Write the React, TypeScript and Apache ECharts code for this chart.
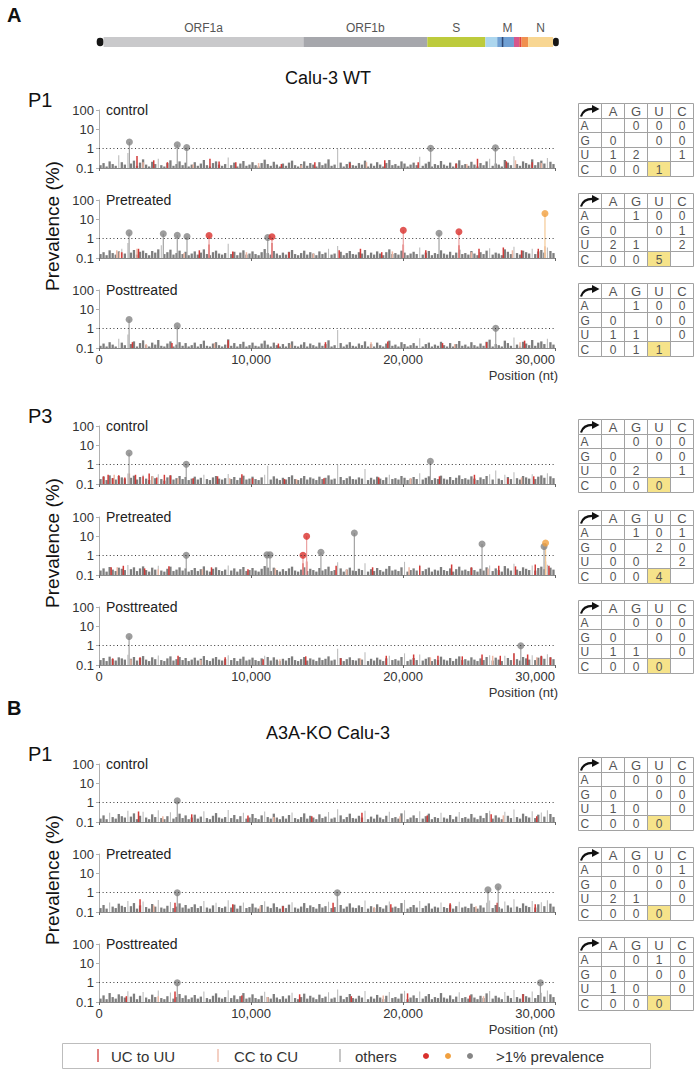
import React, { useEffect, useRef } from 'react';
import * as echarts from 'echarts';

const FONT = '"Liberation Sans", Arial, Helvetica, sans-serif';

// ---------------- genome map ----------------
const geneNames = ['cap5', 'ORF1a', 'ORF1b', 'S', 'ORF3a', 'M', 'E', 'ORF6', 'ORF7', 'ORF8', 'N', 'cap3'];
const geneStarts = [-150, 300, 13450, 21600, 25420, 26200, 26500, 27300, 27650, 27800, 28230, 29870];
const geneEnds = [300, 13450, 21600, 25420, 26200, 27300, 26600, 27650, 27800, 28230, 29870, 30250];
const geneLabels = ['ORF1a', 'ORF1b', 'S', 'M', 'N'];

// ---------------- panel labels ----------------
const panelLabels = ['control', 'Pretreated', 'Posttreated'];
const xTicks = [0, 10000, 20000, 30000];
const baseLetters = ['A', 'G', 'U', 'C'];

// ---------------- background prevalence ("others"), % x 100, 200-nt bins ----------------
const othersWtP1Ctrl = [
  14,18,12,22,16,13,45,20,15,60,17,24,13,19,28,15,12,21,16,30,14,12,18,25,13,16,22,14,19,12,
  15,20,13,17,26,14,12,18,22,15,13,16,35,14,19,12,17,23,13,15,20,14,12,18,27,16,13,21,15,12,
  17,13,19,24,14,12,16,22,13,18,15,12,20,14,17,28,13,15,95,19,12,16,21,14,13,18,15,24,12,17,
  13,20,15,12,18,26,14,16,13,22,17,12,15,19,14,38,13,17,21,12,16,14,23,15,13,19,12,17,25,14,
  16,13,21,15,12,18,14,22,30,13,17,15,12,26,19,14,40,16,13,22,18,15,28,14,20,24,17,33,21,16];
const othersWtP1Pre = [
  16,20,14,25,18,15,22,30,17,60,19,26,15,21,24,18,14,23,19,28,45,16,20,27,15,18,24,16,21,14,
  17,22,15,19,28,16,14,20,24,17,15,18,55,16,21,14,19,25,15,17,22,16,14,20,29,18,15,23,17,14,
  19,15,21,26,16,14,18,24,15,20,17,14,22,16,19,30,15,17,42,21,14,18,23,16,15,20,17,26,14,19,
  15,22,17,14,20,28,16,18,15,24,19,14,17,21,16,35,15,19,23,14,18,16,25,17,15,21,14,19,27,16,
  18,15,23,17,14,20,16,24,32,15,19,17,14,28,21,16,38,18,15,24,20,17,30,16,22,26,19,35,23,18];
const othersWtP1Post = [
  13,17,12,20,15,12,30,19,14,50,16,22,12,18,25,14,12,19,15,26,13,12,17,22,12,15,20,13,18,12,
  14,19,12,16,24,13,12,17,20,14,12,15,28,13,18,12,16,21,12,14,19,13,12,17,24,15,12,19,14,12,
  16,12,18,22,13,12,15,20,12,17,14,12,19,13,16,25,12,14,85,18,12,15,20,13,12,17,14,22,12,16,
  12,19,14,12,17,24,13,15,12,20,16,12,14,18,13,32,12,16,19,12,15,13,21,14,12,18,12,16,23,13,
  15,12,20,14,12,17,13,21,27,12,16,14,12,24,18,13,35,15,12,21,17,14,26,13,19,22,16,30,20,15];
const othersWtP3Ctrl = [
  18,24,16,28,20,17,26,22,19,35,21,27,17,23,30,19,16,25,20,32,18,15,22,28,17,20,26,18,23,16,
  19,24,17,21,30,18,16,22,26,19,17,20,33,18,23,16,21,27,17,19,24,18,16,22,30,88,17,25,19,16,
  21,17,23,28,18,16,20,26,17,22,19,16,24,18,21,28,17,19,98,23,16,20,25,18,17,22,19,60,16,21,
  17,24,19,16,22,30,18,20,17,26,21,16,19,23,18,36,17,21,25,16,20,18,27,19,17,23,16,21,28,18,
  20,17,25,19,16,22,18,26,32,17,50,19,16,30,23,18,40,20,17,26,22,19,32,18,24,28,21,36,25,20];
const othersWtP3Pre = [
  17,22,15,26,19,16,24,21,18,33,20,25,16,22,28,18,15,24,19,30,17,15,21,27,16,19,25,17,22,15,
  18,23,16,20,28,17,15,21,25,18,16,19,31,17,22,15,20,26,16,18,23,17,15,21,29,24,16,24,18,15,
  20,16,22,27,17,15,19,25,16,21,18,15,23,17,20,27,16,18,45,22,15,19,24,17,16,21,18,40,15,20,
  16,23,18,15,21,29,17,19,16,25,48,15,18,22,17,34,16,20,24,15,19,17,26,18,16,22,15,20,27,17,
  19,16,24,18,15,21,17,25,31,16,22,18,15,29,22,17,38,19,16,25,21,18,31,17,23,27,20,34,24,19];
const othersWtP3Post = [
  18,23,16,27,20,17,25,22,19,34,21,26,17,23,29,19,16,25,20,31,18,16,22,28,17,20,26,18,23,16,
  19,24,17,21,29,18,16,22,26,19,17,20,32,18,23,16,21,27,17,19,24,18,16,22,30,26,17,25,19,16,
  21,17,23,28,18,16,20,26,17,22,19,16,24,18,21,28,17,19,70,23,16,20,25,18,17,22,19,45,16,21,
  17,24,19,16,22,30,18,20,17,26,40,16,19,23,18,35,17,21,25,16,20,18,27,19,17,23,16,21,28,18,
  20,17,25,19,16,22,18,26,32,17,24,19,16,30,23,18,40,20,17,26,22,19,32,18,24,28,21,36,25,20];
const othersKoP1Ctrl = [
  15,22,14,30,18,15,26,20,17,38,19,28,14,21,34,17,14,25,18,40,16,14,20,32,15,18,27,16,22,14,
  17,24,15,19,36,16,14,21,29,17,15,18,42,16,23,14,20,30,15,17,26,16,14,22,35,18,15,27,17,14,
  20,15,23,31,16,14,18,28,15,21,17,14,25,16,19,33,15,17,45,22,14,18,27,16,15,21,17,38,14,19,
  15,24,17,14,21,34,16,18,15,28,40,14,17,22,16,36,15,20,27,14,18,16,30,17,15,23,14,19,33,16,
  18,15,26,17,14,21,16,29,38,15,22,17,14,34,21,16,44,18,15,27,20,17,36,16,24,31,19,40,26,18];
const othersKoP1Pre = [
  16,23,15,31,19,16,27,21,18,37,20,29,15,22,35,18,15,26,19,42,17,15,21,33,16,19,28,17,23,15,
  18,25,16,20,37,17,15,22,30,18,16,19,40,17,24,15,21,31,16,18,27,17,15,23,36,19,16,28,18,15,
  21,16,24,32,17,15,19,29,16,22,18,15,26,17,20,34,16,18,48,23,15,19,28,17,16,22,18,39,15,20,
  16,25,18,15,22,35,17,19,16,29,42,15,18,23,17,37,16,21,28,15,19,17,31,18,16,24,15,20,34,17,
  19,16,27,18,15,22,17,30,39,16,23,18,15,35,22,17,45,19,16,28,21,18,37,17,25,32,20,41,27,19];
const othersKoP1Post = [
  15,22,14,29,18,15,25,20,17,36,19,27,14,21,33,17,14,24,18,39,16,14,20,31,15,18,26,16,22,14,
  17,23,15,19,35,16,14,21,28,17,15,18,40,16,22,14,20,29,15,17,25,16,14,21,34,18,15,26,17,14,
  20,15,22,30,16,14,18,27,15,21,17,14,24,16,19,32,15,17,44,21,14,18,26,16,15,21,17,37,14,19,
  15,23,17,14,21,33,16,18,15,27,38,14,17,22,16,35,15,20,26,14,18,16,29,17,15,22,14,19,32,16,
  18,15,25,17,14,21,16,28,37,15,21,17,14,33,21,16,42,18,15,26,20,17,35,16,23,30,19,39,25,18];
const BIN_NT = 200;

// ---------------- UC to UU sites [position, prevalence %] ----------------
const ucuuWtP1Ctrl = [[2500,0.42],[3600,0.25],[4500,0.2],[7300,0.3],[7900,0.22],[9000,0.2],[12000,0.16],[14200,0.2],[16500,0.18],[18800,0.25],[21000,0.2],[23500,0.17],[24900,0.3],[26800,0.22],[28500,0.2]];
const ucuuWtP1Pre = [[1500,0.2],[2600,0.3],[6600,0.25],[7240,0.5],[8800,0.22],[11380,0.6],[12500,0.2],[15800,0.25],[17200,0.3],[18600,0.2],[20020,0.5],[21500,0.25],[23680,0.45],[25000,0.3],[26600,0.35],[27800,0.25],[28900,0.3]];
const ucuuWtP1Post = [[2200,0.2],[4800,0.18],[8500,0.25],[11800,0.17],[14900,0.2],[19000,0.22],[22600,0.18],[25500,0.2],[28000,0.24]];
const ucuuWtP3Ctrl = [[300,0.25],[600,0.3],[900,0.2],[1300,0.28],[1700,0.22],[2400,0.3],[2900,0.25],[3300,0.35],[3800,0.22],[4300,0.3],[4700,0.28],[6200,0.2],[7800,0.25],[9400,0.32],[10100,0.2],[12200,0.18],[14800,0.2],[18400,0.22],[22400,0.25],[24700,0.3],[26900,0.2],[28600,0.25]];
const ucuuWtP3Pre = [[800,0.25],[1600,0.3],[3000,0.22],[4600,0.28],[7400,0.25],[9800,0.2],[13420,0.4],[13660,0.5],[15600,0.3],[18000,0.25],[21100,0.3],[23200,0.35],[24500,0.25],[26300,0.3],[27400,0.28],[28700,0.35],[29600,0.3]];
const ucuuWtP3Post = [[900,0.22],[2700,0.25],[5200,0.3],[8300,0.25],[10800,0.2],[13600,0.28],[15900,0.22],[18900,0.3],[20700,0.35],[22300,0.3],[23900,0.28],[25200,0.35],[26400,0.3],[27300,0.4],[28200,0.35],[29100,0.3],[29700,0.25]];
const ucuuKoP1Ctrl = [[2600,0.35],[6100,0.25],[9800,0.22],[14000,0.2],[17300,0.3],[21600,0.22],[25800,0.25],[28800,0.2]];
const ucuuKoP1Pre = [[2700,0.45],[5000,0.3],[8800,0.25],[12100,0.2],[15400,0.3],[19200,0.25],[23100,0.28],[26200,0.3],[28700,0.25]];
const ucuuKoP1Post = [[1800,0.2],[5000,0.35],[9400,0.22],[13200,0.25],[16600,0.2],[20300,0.28],[24400,0.22],[27900,0.25]];

// ---------------- CC to CU sites [position, prevalence %] ----------------
const cccuWtP1Ctrl = [[2900,0.2],[6200,0.15],[10500,0.18],[13300,0.14],[17600,0.2],[24200,0.16],[27400,0.25],[29100,0.18]];
const cccuWtP1Pre = [[1170,0.25],[1350,0.2],[2500,0.3],[5600,0.18],[9700,0.2],[14100,0.17],[19300,0.22],[24500,0.2],[27200,0.25],[29340,0.4]];
const cccuWtP1Post = [[3100,0.16],[7600,0.18],[12600,0.15],[17900,0.2],[23400,0.16],[27700,0.2]];
const cccuWtP3Ctrl = [[1000,0.3],[2000,0.35],[3500,0.25],[5200,0.2],[8600,0.2],[13000,0.18],[20500,0.2],[27800,0.22]];
const cccuWtP3Pre = [[1200,0.25],[3900,0.2],[6800,0.2],[11600,0.22],[16300,0.2],[20400,0.25],[25600,0.22],[29380,0.5]];
const cccuWtP3Post = [[2100,0.2],[6700,0.18],[11900,0.2],[17200,0.22],[21800,0.25],[25900,0.3],[28800,0.25]];
const cccuKoP1Ctrl = [[4200,0.2],[11500,0.18],[19800,0.2],[26600,0.22]];
const cccuKoP1Pre = [[3600,0.22],[10600,0.2],[18100,0.18],[24800,0.2]];
const cccuKoP1Post = [[3900,0.2],[11100,0.18],[18700,0.22],[25300,0.2]];

// ---------------- >1% prevalence sites [position, prevalence %, type] ----------------
const dotsWtP1Ctrl = [[2000,2.2,'others'],[5150,1.6,'others'],[5770,1.15,'others'],[21820,1.05,'others'],[26080,1.1,'others']];
const dotsWtP1Pre = [[1980,2.0,'others'],[4230,1.8,'others'],[5150,1.5,'others'],[5790,1.3,'others'],[7240,1.45,'UCUU'],[11100,1.15,'others'],[11380,1.25,'UCUU'],[20020,2.7,'UCUU'],[22370,1.9,'others'],[23680,2.3,'UCUU'],[29340,20,'CCCU']];
const dotsWtP1Post = [[1980,3.0,'others'],[5150,1.4,'others'],[26100,1.05,'others']];
const dotsWtP3Ctrl = [[1980,4.0,'others'],[5740,1.05,'others'],[21800,1.5,'others']];
const dotsWtP3Pre = [[5740,1.05,'others'],[11050,1.1,'others'],[11250,1.1,'others'],[13420,1.05,'UCUU'],[13660,10,'UCUU'],[14600,1.5,'others'],[16800,15,'others'],[25200,4.0,'others'],[29280,3.0,'others'],[29380,4.5,'CCCU']];
const dotsWtP3Post = [[1980,3.0,'others'],[27750,1.0,'others']];
const dotsKoP1Ctrl = [[5150,1.25,'others']];
const dotsKoP1Pre = [[5150,1.0,'others'],[15680,1.0,'others'],[25590,1.4,'others'],[26260,2.0,'others']];
const dotsKoP1Post = [[5150,1.0,'others'],[29040,1.0,'others']];

// ---------------- substitution tables (rows: from A,G,U,C; cols: to A,G,U,C) ----------------
const tableWtP1Ctrl = [[null,0,0,0],[0,null,0,0],[1,2,null,1],[0,0,1,null]];
const tableWtP1Pre = [[null,1,0,0],[0,null,0,1],[2,1,null,2],[0,0,5,null]];
const tableWtP1Post = [[null,1,0,0],[0,null,0,0],[1,1,null,0],[0,1,1,null]];
const tableWtP3Ctrl = [[null,0,0,0],[0,null,0,0],[0,2,null,1],[0,0,0,null]];
const tableWtP3Pre = [[null,1,0,1],[0,null,2,0],[0,0,null,2],[0,0,4,null]];
const tableWtP3Post = [[null,0,0,0],[0,null,0,0],[1,1,null,0],[0,0,0,null]];
const tableKoP1Ctrl = [[null,0,0,0],[0,null,0,0],[1,0,null,0],[0,0,0,null]];
const tableKoP1Pre = [[null,0,0,1],[0,null,0,0],[2,1,null,0],[0,0,0,null]];
const tableKoP1Post = [[null,0,1,0],[0,null,0,0],[1,0,null,0],[0,0,0,null]];

const PANELS = [
  { others: othersWtP1Ctrl, ucuu: ucuuWtP1Ctrl, cccu: cccuWtP1Ctrl, dots: dotsWtP1Ctrl, table: tableWtP1Ctrl },
  { others: othersWtP1Pre, ucuu: ucuuWtP1Pre, cccu: cccuWtP1Pre, dots: dotsWtP1Pre, table: tableWtP1Pre },
  { others: othersWtP1Post, ucuu: ucuuWtP1Post, cccu: cccuWtP1Post, dots: dotsWtP1Post, table: tableWtP1Post },
  { others: othersWtP3Ctrl, ucuu: ucuuWtP3Ctrl, cccu: cccuWtP3Ctrl, dots: dotsWtP3Ctrl, table: tableWtP3Ctrl },
  { others: othersWtP3Pre, ucuu: ucuuWtP3Pre, cccu: cccuWtP3Pre, dots: dotsWtP3Pre, table: tableWtP3Pre },
  { others: othersWtP3Post, ucuu: ucuuWtP3Post, cccu: cccuWtP3Post, dots: dotsWtP3Post, table: tableWtP3Post },
  { others: othersKoP1Ctrl, ucuu: ucuuKoP1Ctrl, cccu: cccuKoP1Ctrl, dots: dotsKoP1Ctrl, table: tableKoP1Ctrl },
  { others: othersKoP1Pre, ucuu: ucuuKoP1Pre, cccu: cccuKoP1Pre, dots: dotsKoP1Pre, table: tableKoP1Pre },
  { others: othersKoP1Post, ucuu: ucuuKoP1Post, cccu: cccuKoP1Post, dots: dotsKoP1Post, table: tableKoP1Post },
];

// ---------------- styles / layout ----------------
const GENE_COLORS: Record<string, string> = {
  cap5: '#161616', ORF1a: '#c9c9cb', ORF1b: '#a6a7ac', S: '#bdcb3c', ORF3a: '#acd6ee', M: '#6f9fd3',
  E: '#2d4673', ORF6: '#d6568c', ORF7: '#e2453c', ORF8: '#f0904f', N: '#f8d692', cap3: '#161616',
};
const DOT_COLORS: Record<string, string> = { others: '#858585', UCUU: '#d9302c', CCCU: '#f1a03f' };
const STEM_COLORS: Record<string, string> = { others: '#a3a3a3', UCUU: '#eba2a2', CCCU: '#f4c996' };
const RED = '#d23a38';
const SALMON = '#efb7a4';
const GRID_LEFT = 99;
const GRID_W = 456;
const GRID_H = 58;
const PANEL_TOPS = [110, 200, 290, 426, 517, 607, 764, 854, 944];
const GROUPS = [
  { title: 'Calu-3 WT', titleY: 78, p: 'P1', pY: 100, first: 0 },
  { title: '', titleY: 0, p: 'P3', pY: 416, first: 3 },
  { title: 'A3A-KO Calu-3', titleY: 733, p: 'P1', pY: 754, first: 6 },
];
const TBL_X = 578;
const TBL_CW = 23;
const TBL_RH = 14.6;

const fmtThousands = (v: number) => String(v).replace(/\B(?=(\d{3})+(?!\d))/g, ',');

function stemLine(api: any, x: number, v: number, stroke: string, w: number) {
  const p0 = api.coord([x, 0.1]);
  const p1 = api.coord([x, v]);
  return { type: 'line', shape: { x1: p0[0], y1: p0[1], x2: p1[0], y2: p1[1] }, style: { stroke, lineWidth: w } };
}

function buildTable(table: (number | null)[][], top: number) {
  const els: any[] = [];
  for (let r = 0; r < 5; r++) {
    for (let c = 0; c < 5; c++) {
      const x = Math.round(TBL_X + c * TBL_CW) + 0.5;
      const y = Math.round(top + r * TBL_RH) + 0.5;
      const y2 = Math.round(top + (r + 1) * TBL_RH) + 0.5;
      const hl = r === 4 && c === 3;
      els.push({ type: 'rect', shape: { x, y, width: TBL_CW, height: y2 - y }, style: { fill: hl ? '#f6e38a' : 'none', stroke: '#a2a2a2', lineWidth: 1 } });
      const cy = (y + y2) / 2 + 0.5;
      if (r === 0 && c >= 1) {
        els.push({ type: 'text', x: x + TBL_CW / 2, y: cy, style: { text: baseLetters[c - 1], font: `13px ${FONT}`, fill: '#555', align: 'center', verticalAlign: 'middle' } });
      } else if (c === 0 && r >= 1) {
        els.push({ type: 'text', x: x + 2, y: cy, style: { text: baseLetters[r - 1], font: `12px ${FONT}`, fill: '#555', align: 'left', verticalAlign: 'middle' } });
      } else if (r >= 1 && c >= 1) {
        const v = table[r - 1][c - 1];
        if (v !== null) els.push({ type: 'text', x: x + TBL_CW / 2, y: cy, style: { text: String(v), font: `12px ${FONT}`, fill: '#555', align: 'center', verticalAlign: 'middle' } });
      } else if (r === 0 && c === 0) {
        els.push({ type: 'bezierCurve', shape: { x1: x + 2.5, y1: y + 13, cpx1: x + 5, cpy1: y + 5, x2: x + 15, y2: y + 5.5 }, style: { stroke: '#111', lineWidth: 2.2, fill: 'none' } });
        els.push({ type: 'polygon', shape: { points: [[x + 13.5, y + 1.5], [x + 21, y + 5.5], [x + 13.5, y + 9.5]] }, style: { fill: '#111' } });
      }
    }
  }
  return els;
}

function buildOption() {
  const grid: any[] = [{ left: GRID_LEFT, top: 37, width: GRID_W, height: 10 }];
  const xAxis: any[] = [{ gridIndex: 0, type: 'value', min: 0, max: 30000, show: false }];
  const yAxis: any[] = [{ gridIndex: 0, type: 'value', min: 0, max: 1, show: false }];
  const series: any[] = [];
  const graphic: any[] = [];

  // genome
  series.push({
    type: 'custom', xAxisIndex: 0, yAxisIndex: 0, clip: false,
    data: geneNames.map((n, i) => [geneStarts[i], geneEnds[i], i]),
    renderItem: (params: any, api: any) => {
      const name = geneNames[params.dataIndex];
      const a = api.coord([api.value(0), 0.5]);
      const b = api.coord([api.value(1), 0.5]);
      const h = api.size([0, 1])[1];
      const cap = name.startsWith('cap');
      const ch = cap ? h * 0.85 : h;
      const children: any[] = [{ type: 'rect', shape: { x: a[0], y: a[1] - ch / 2, width: b[0] - a[0], height: ch, r: cap ? 3.5 : 0 }, style: { fill: GENE_COLORS[name] } }];
      if (geneLabels.includes(name)) {
        children.push({ type: 'text', x: (a[0] + b[0]) / 2 + (name === 'M' ? 2 : 0), y: a[1] - h / 2 - 9, style: { text: name, font: `12px ${FONT}`, fill: '#555', align: 'center', verticalAlign: 'middle' } });
      }
      return { type: 'group', children };
    },
  });

  PANELS.forEach((p, k) => {
    const gi = k + 1;
    const top = PANEL_TOPS[k];
    const bottomOfGroup = k % 3 === 2;
    grid.push({ left: GRID_LEFT, top, width: GRID_W, height: GRID_H });
    xAxis.push({
      gridIndex: gi, type: 'value', min: xTicks[0], max: xTicks[xTicks.length - 1], interval: 10000,
      axisLine: { show: true, lineStyle: { color: '#8a8a8a', width: 1 } },
      axisTick: { show: true, length: 3, lineStyle: { color: '#666' } },
      axisLabel: { show: bottomOfGroup, formatter: (v: number) => fmtThousands(v), fontSize: 13, color: '#333', margin: 5, fontFamily: FONT, alignMaxLabel: 'right' },
      splitLine: { show: false },
    });
    yAxis.push({
      gridIndex: gi, type: 'log', logBase: 10, min: 0.1, max: 100,
      axisLine: { show: true, lineStyle: { color: '#b0b0b0', width: 1 } },
      axisTick: { show: true, length: 3, lineStyle: { color: '#b0b0b0' } },
      axisLabel: { fontSize: 13, color: '#333', margin: 5, fontFamily: FONT, formatter: (v: number) => (v < 1 ? v.toFixed(1) : String(Math.round(v))) },
      splitLine: { show: false }, minorTick: { show: false },
    });
    const othersData = p.others.map((h, i) => [i * BIN_NT + BIN_NT / 2, h / 100]);
    series.push({
      type: 'custom', xAxisIndex: gi, yAxisIndex: gi, data: othersData,
      renderItem: (params: any, api: any) => {
        const v = api.value(1);
        return v >= 0.3
          ? stemLine(api, api.value(0), v, '#bdbdbd', 1.1)
          : stemLine(api, api.value(0), v, '#7e7e7e', 2.3);
      },
    });
    series.push({
      type: 'custom', xAxisIndex: gi, yAxisIndex: gi, data: p.cccu,
      renderItem: (params: any, api: any) => stemLine(api, api.value(0), api.value(1), SALMON, 1.5),
    });
    series.push({
      type: 'custom', xAxisIndex: gi, yAxisIndex: gi, data: p.ucuu,
      renderItem: (params: any, api: any) => stemLine(api, api.value(0), api.value(1), RED, 1.5),
    });
    const dots = p.dots as any[];
    series.push({
      type: 'custom', xAxisIndex: gi, yAxisIndex: gi, data: dots.map((d) => [d[0], d[1]]),
      renderItem: (params: any, api: any) => stemLine(api, api.value(0), api.value(1), STEM_COLORS[dots[params.dataIndex][2]], 1.2),
    });
    series.push({
      type: 'scatter', xAxisIndex: gi, yAxisIndex: gi, symbol: 'circle', symbolSize: 7,
      data: dots.map((d) => ({ value: [d[0], d[1]], itemStyle: { color: DOT_COLORS[d[2]] } })),
      markLine: {
        silent: true, symbol: ['none', 'none'], label: { show: false },
        lineStyle: { color: '#3a3a3a', type: [1, 2.6], width: 1 },
        data: [{ yAxis: 1 }],
      },
    });
    graphic.push({ type: 'text', x: 106, y: top, style: { text: panelLabels[k % 3], font: `14px ${FONT}`, fill: '#222', align: 'left', verticalAlign: 'middle' } });
    graphic.push(...buildTable(p.table, top - 7));
    if (bottomOfGroup) {
      graphic.push({ type: 'text', x: 558, y: top + GRID_H + 27, style: { text: 'Position (nt)', font: `13px ${FONT}`, fill: '#333', align: 'right', verticalAlign: 'middle' } });
    }
  });

  GROUPS.forEach((g) => {
    if (g.title) graphic.push({ type: 'text', x: 328, y: g.titleY, style: { text: g.title, font: `18px ${FONT}`, fill: '#111', align: 'center', verticalAlign: 'middle' } });
    graphic.push({ type: 'text', x: 28, y: g.pY, style: { text: g.p, font: `20px ${FONT}`, fill: '#111', align: 'left', verticalAlign: 'middle' } });
    const midTop = PANEL_TOPS[g.first + 1];
    graphic.push({ type: 'text', x: 52, y: midTop + 26, rotation: Math.PI / 2, style: { text: 'Prevalence (%)', font: `19px ${FONT}`, fill: '#111', align: 'center', verticalAlign: 'middle' } });
  });

  graphic.push({ type: 'text', x: 7, y: 15, style: { text: 'A', font: `bold 20px ${FONT}`, fill: '#111', align: 'left', verticalAlign: 'middle' } });
  graphic.push({ type: 'text', x: 7, y: 708, style: { text: 'B', font: `bold 20px ${FONT}`, fill: '#111', align: 'left', verticalAlign: 'middle' } });

  // legend
  const ly = 1056;
  graphic.push({ type: 'rect', shape: { x: 62.5, y: 1043.5, width: 588, height: 25 }, style: { fill: 'none', stroke: '#bdbdbd', lineWidth: 1 } });
  const legendLines = [
    { x: 98, color: RED, text: 'UC to UU', tx: 111 },
    { x: 218, color: SALMON, text: 'CC to CU', tx: 234 },
    { x: 340, color: '#a8a8a8', text: 'others', tx: 355 },
  ];
  legendLines.forEach((l) => {
    graphic.push({ type: 'line', shape: { x1: l.x, y1: ly - 7, x2: l.x, y2: ly + 6 }, style: { stroke: l.color, lineWidth: 1.3 } });
    graphic.push({ type: 'text', x: l.tx, y: ly, style: { text: l.text, font: `15px ${FONT}`, fill: '#333', align: 'left', verticalAlign: 'middle' } });
  });
  [[426, DOT_COLORS.UCUU], [448, DOT_COLORS.CCCU], [470, DOT_COLORS.others]].forEach(([x, c]) => {
    graphic.push({ type: 'circle', shape: { cx: x as number, cy: ly, r: 3 }, style: { fill: c as string } });
  });
  graphic.push({ type: 'text', x: 496, y: ly, style: { text: '>1% prevalence', font: `15px ${FONT}`, fill: '#333', align: 'left', verticalAlign: 'middle' } });

  return { animation: false, backgroundColor: '#fff', grid, xAxis, yAxis, series, graphic };
}

export default function App() {
  const ref = useRef<HTMLDivElement>(null);
  useEffect(() => {
    document.body.style.margin = '0';
    const chart = echarts.init(ref.current!, null, { renderer: 'svg' });
    chart.setOption(buildOption() as any);
    return () => chart.dispose();
  }, []);
  return <div ref={ref} style={{ width: 698, height: 1070 }} />;
}
